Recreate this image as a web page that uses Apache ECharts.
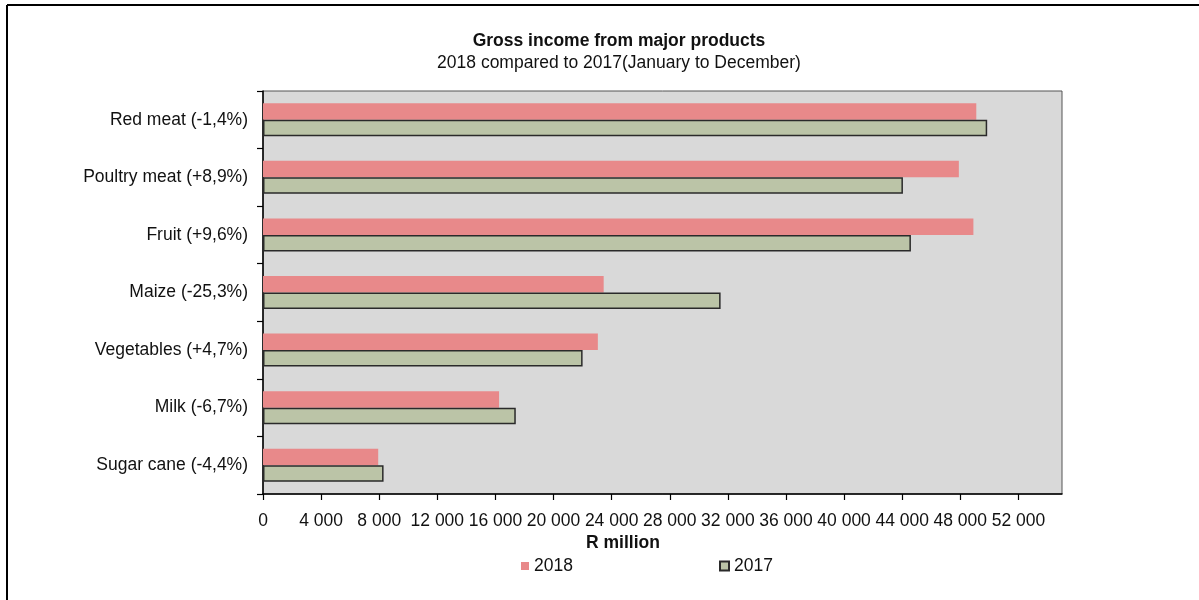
<!DOCTYPE html>
<html>
<head>
<meta charset="utf-8">
<script src="https://cdn.jsdelivr.net/npm/echarts@6/dist/echarts.min.js"></script>
<style>
html,body{margin:0;padding:0;background:#fff;}
#chart{width:1199px;height:600px;}
</style>
</head>
<body>
<div id="chart"></div>
<script>
const categories = ['Red meat (-1,4%)', 'Poultry meat (+8,9%)', 'Fruit (+9,6%)', 'Maize (-25,3%)', 'Vegetables (+4,7%)', 'Milk (-6,7%)', 'Sugar cane (-4,4%)'];
const values2018 = [49100, 47900, 48900, 23450, 23050, 16250, 7930];
const values2017 = [49850, 44050, 44600, 31500, 22000, 17400, 8300];
const tickValues = [0, 4000, 8000, 12000, 16000, 20000, 24000, 28000, 32000, 36000, 40000, 44000, 48000, 52000];
const seriesNames = ['2018', '2017'];

const FONT = "'Liberation Sans', Arial, sans-serif";
const TXT = '#111111';
const chart = echarts.init(document.getElementById('chart'), null, {renderer: 'canvas'});

function fmt(v) {
  return String(v).replace(/\B(?=(\d{3})+(?!\d))/g, ' ');
}

chart.setOption({
  animation: false,
  backgroundColor: '#ffffff',
  title: [
    {text: 'Gross income from major products', left: 614, top: 26, textAlign: 'center',
     textStyle: {fontFamily: FONT, fontSize: 17.5, fontWeight: 'bold', color: TXT, lineHeight: 20}},
    {text: '2018 compared to 2017(January to December)', left: 614, top: 48, textAlign: 'center',
     textStyle: {fontFamily: FONT, fontSize: 17.5, fontWeight: 'normal', color: TXT, lineHeight: 20}},
    {text: 'R million', left: 618, top: 528, textAlign: 'center',
     textStyle: {fontFamily: FONT, fontSize: 17.5, fontWeight: 'bold', color: TXT, lineHeight: 20}}
  ],
  legend: [
    {data: [seriesNames[0]], icon: 'rect', left: 521, top: 557, itemWidth: 8, itemHeight: 8, padding: 0,
     textStyle: {fontFamily: FONT, fontSize: 17.5, color: TXT}},
    {data: [seriesNames[1]], icon: 'rect', left: 719, top: 557, itemWidth: 9, itemHeight: 9, padding: 0,
     textStyle: {fontFamily: FONT, fontSize: 17.5, color: TXT}}
  ],
  grid: {left: 263, top: 91, right: 137, bottom: 106, show: true, backgroundColor: '#d9d9d9',
         borderColor: '#555555', borderWidth: 1},
  xAxis: {
    type: 'value', min: 0, max: 55000, interval: 4000,
    splitLine: {show: false},
    axisLine: {show: true, lineStyle: {color: '#000', width: 1.5}},
    axisTick: {show: true, length: 6, lineStyle: {color: '#000', width: 1.2}, customValues: tickValues},
    axisLabel: {margin: 18, fontFamily: FONT, fontSize: 17.5, color: TXT, customValues: tickValues,
                formatter: v => fmt(v)}
  },
  yAxis: {
    type: 'category', data: categories, inverse: true,
    axisLine: {show: true, lineStyle: {color: '#000', width: 1.5}},
    axisTick: {show: true, length: 6, lineStyle: {color: '#000', width: 1.2}},
    axisLabel: {margin: 15, fontFamily: FONT, fontSize: 17.5, color: TXT},
    splitLine: {show: false}
  },
  series: [
    {name: seriesNames[0], type: 'bar', data: values2018, barWidth: 16.5, barGap: '0%',
     itemStyle: {color: '#e8898a'}},
    {name: seriesNames[1], type: 'bar', data: values2017, barWidth: 16.5, barGap: '0%',
     itemStyle: {color: '#bbc4a7', borderColor: '#2a2a2a', borderWidth: 1.5}}
  ],
  graphic: [
    {type: 'line', shape: {x1: 7, y1: 5, x2: 1199, y2: 5}, style: {stroke: '#000', lineWidth: 2}},
    {type: 'line', shape: {x1: 7, y1: 5, x2: 7, y2: 600}, style: {stroke: '#000', lineWidth: 2}}
  ]
});
</script>
</body>
</html>
